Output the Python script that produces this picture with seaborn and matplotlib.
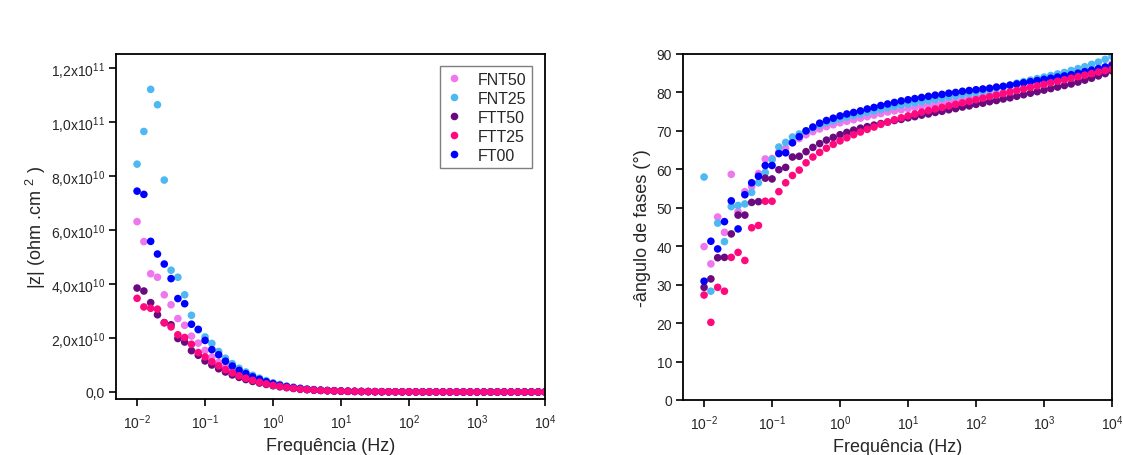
import numpy as np
import pandas as pd
import matplotlib
matplotlib.use("Agg")
import matplotlib.pyplot as plt
import seaborn as sns
from matplotlib.ticker import FixedLocator, FuncFormatter, NullLocator

# Samples and their colours (legend order)
samples = ["FNT50", "FNT25", "FTT50", "FTT25", "FT00"]
colors = ["#EE77EE", "#4DB8F2", "#6A0A7E", "#FF0A7E", "#0000FF"]
# Order in which the point clouds are stacked (last one on top)
draw_order = ["FNT50", "FNT25", "FTT50", "FT00", "FTT25"]

# Measurement grid: 10 points per decade, 10 mHz to 10 kHz
freq = np.logspace(-2, 4, 61)

# |Z| in units of 1e10 ohm.cm2
z_unit = 1e10
z_fnt50 = [6.31, 5.57, 4.38, 4.25, 3.60, 3.23, 2.72, 2.47, 2.07, 1.81,
           1.54, 1.30, 1.10, 0.92, 0.78, 0.66, 0.56, 0.47, 0.39, 0.32,
           0.27, 0.22, 0.18, 0.14, 0.11, 0.090, 0.073, 0.059, 0.048, 0.039,
           0.031, 0.025, 0.020, 0.016, 0.013, 0.011, 0.0088, 0.0071, 0.0058, 0.0047,
           0.0038, 0.0031, 0.0025, 0.0020, 0.0016, 0.0013, 0.0011, 0.0009, 0.0007, 0.0006,
           0.00049, 0.0004, 0.00032, 0.00026, 0.00021, 0.00017, 0.00014, 0.00011, 0.00009, 0.00007,
           0.00006]
z_fnt25 = [8.44, 9.65, 11.21, 10.64, 7.85, 4.51, 4.25, 3.60, 2.84, 2.30,
           2.04, 1.80, 1.50, 1.25, 1.05, 0.88, 0.74, 0.62, 0.51, 0.42,
           0.34, 0.28, 0.22, 0.18, 0.14, 0.11, 0.090, 0.073, 0.059, 0.047,
           0.038, 0.031, 0.025, 0.020, 0.016, 0.013, 0.011, 0.0087, 0.0070, 0.0057,
           0.0046, 0.0037, 0.0030, 0.0025, 0.0020, 0.0016, 0.0013, 0.0011, 0.0009, 0.0007,
           0.0006, 0.00048, 0.00039, 0.00032, 0.00026, 0.00021, 0.00017, 0.00014, 0.00011, 0.00009,
           0.00007]
z_ftt50 = [3.85, 3.74, 3.31, 2.86, 2.57, 2.49, 1.98, 1.85, 1.53, 1.36,
           1.15, 1.00, 0.86, 0.74, 0.63, 0.54, 0.46, 0.39, 0.33, 0.28,
           0.23, 0.19, 0.16, 0.13, 0.10, 0.085, 0.069, 0.056, 0.046, 0.037,
           0.030, 0.024, 0.020, 0.016, 0.013, 0.010, 0.0085, 0.0069, 0.0056, 0.0045,
           0.0037, 0.0030, 0.0024, 0.0020, 0.0016, 0.0013, 0.0010, 0.00085, 0.0007, 0.00056,
           0.00046, 0.00037, 0.0003, 0.00024, 0.0002, 0.00016, 0.00013, 0.0001, 0.00008, 0.00007,
           0.00005]
z_ftt25 = [3.47, 3.15, 3.10, 3.07, 2.56, 2.41, 2.12, 2.02, 1.77, 1.46,
           1.30, 1.12, 0.97, 0.83, 0.71, 0.60, 0.51, 0.43, 0.36, 0.30,
           0.25, 0.21, 0.17, 0.14, 0.11, 0.090, 0.073, 0.059, 0.048, 0.039,
           0.032, 0.026, 0.021, 0.017, 0.014, 0.011, 0.0090, 0.0073, 0.0059, 0.0048,
           0.0039, 0.0032, 0.0026, 0.0021, 0.0017, 0.0014, 0.0011, 0.0009, 0.00073, 0.00059,
           0.00048, 0.00039, 0.00032, 0.00026, 0.00021, 0.00017, 0.00014, 0.00011, 0.00009, 0.00007,
           0.00006]
z_ft00 = [7.44, 7.32, 5.58, 5.11, 4.74, 4.20, 3.46, 3.27, 2.51, 2.32,
          1.91, 1.57, 1.38, 1.14, 0.96, 0.80, 0.68, 0.56, 0.47, 0.38,
          0.31, 0.25, 0.20, 0.16, 0.13, 0.10, 0.082, 0.066, 0.053, 0.043,
          0.035, 0.028, 0.023, 0.018, 0.015, 0.012, 0.0097, 0.0079, 0.0064, 0.0052,
          0.0042, 0.0034, 0.0028, 0.0023, 0.0018, 0.0015, 0.0012, 0.0010, 0.0008, 0.00066,
          0.00054, 0.00044, 0.00036, 0.00029, 0.00024, 0.00019, 0.00016, 0.00013, 0.00011, 0.00009,
          0.00007]

# -phase angle in degrees
ph_fnt50 = [39.9, 35.4, 47.6, 43.6, 58.7, 49.0, 54.2, 55.5, 58.9, 62.7,
            62.8, 64.5, 65.5, 67.0, 68.0, 69.0, 69.8, 70.5, 71.1, 71.6,
            72.1, 72.5, 72.9, 73.3, 73.7, 74.1, 74.5, 74.9, 75.2, 75.5,
            75.8, 76.1, 76.4, 76.7, 77.0, 77.3, 77.6, 77.9, 78.2, 78.5,
            78.8, 79.1, 79.4, 79.7, 80.0, 80.3, 80.7, 81.1, 81.5, 81.9,
            82.3, 82.7, 83.1, 83.5, 83.9, 84.4, 84.9, 85.4, 85.9, 86.6,
            87.4]
ph_fnt25 = [58.0, 28.3, 46.0, 41.2, 50.3, 50.6, 51.0, 54.0, 56.5, 59.2,
            62.5, 65.8, 67.0, 68.4, 69.2, 70.0, 70.8, 71.5, 72.1, 72.6,
            73.1, 73.6, 74.0, 74.4, 74.8, 75.2, 75.6, 76.0, 76.4, 76.7,
            77.0, 77.3, 77.6, 77.9, 78.2, 78.5, 78.8, 79.1, 79.4, 79.7,
            80.0, 80.3, 80.7, 81.1, 81.5, 81.9, 82.4, 82.8, 83.2, 83.6,
            84.0, 84.4, 84.8, 85.2, 85.7, 86.2, 86.7, 87.3, 87.9, 88.6,
            89.4]
ph_ftt50 = [29.3, 31.5, 37.0, 37.1, 43.2, 48.1, 48.1, 51.4, 51.6, 57.7,
            57.5, 59.9, 60.5, 63.2, 63.4, 64.6, 65.7, 66.7, 67.6, 68.3,
            69.0, 69.6, 70.2, 70.7, 71.1, 71.5, 71.9, 72.3, 72.7, 73.0,
            73.4, 73.7, 74.1, 74.4, 74.8, 75.1, 75.5, 75.8, 76.2, 76.5,
            76.9, 77.2, 77.6, 77.9, 78.3, 78.6, 79.0, 79.4, 79.8, 80.2,
            80.6, 81.0, 81.4, 81.8, 82.2, 82.7, 83.2, 83.7, 84.3, 84.9,
            85.6]
ph_ftt25 = [27.3, 20.2, 29.3, 28.3, 37.1, 38.4, 36.3, 44.8, 45.4, 51.7,
            51.7, 54.2, 56.5, 58.4, 59.8, 61.7, 63.2, 64.4, 65.5, 66.5,
            67.4, 68.2, 69.0, 69.7, 70.4, 71.0, 71.7, 72.3, 72.9, 73.4,
            73.9, 74.4, 74.9, 75.3, 75.7, 76.1, 76.5, 76.9, 77.3, 77.7,
            78.1, 78.5, 78.9, 79.3, 79.7, 80.1, 80.5, 80.9, 81.3, 81.7,
            82.1, 82.5, 82.9, 83.3, 83.7, 84.1, 84.5, 84.9, 85.3, 85.7,
            86.1]
ph_ft00 = [30.9, 41.3, 39.3, 46.4, 51.8, 44.5, 53.4, 56.5, 58.2, 61.0,
           61.0, 64.1, 64.3, 66.9, 68.5, 70.0, 71.0, 72.0, 72.7, 73.3,
           73.9, 74.4, 74.8, 75.2, 75.7, 76.1, 76.6, 77.0, 77.4, 77.8,
           78.1, 78.4, 78.7, 79.0, 79.3, 79.5, 79.8, 80.0, 80.3, 80.5,
           80.7, 80.9, 81.1, 81.4, 81.6, 81.9, 82.2, 82.5, 82.8, 83.1,
           83.4, 83.7, 84.0, 84.3, 84.6, 85.0, 85.4, 85.8, 86.2, 86.6,
           87.0]

z_values = dict(zip(samples, [z_fnt50, z_fnt25, z_ftt50, z_ftt25, z_ft00]))
ph_values = dict(zip(samples, [ph_fnt50, ph_fnt25, ph_ftt50, ph_ftt25, ph_ft00]))

frames = []
for name in draw_order:
    frames.append(pd.DataFrame({
        "freq": freq,
        "z": np.asarray(z_values[name]) * z_unit,
        "phase": ph_values[name],
        "sample": name,
    }))
df = pd.concat(frames, ignore_index=True)

sns.set_style("ticks")
plt.rcParams["font.family"] = ["Liberation Sans", "DejaVu Sans"]
plt.rcParams["mathtext.fontset"] = "custom"
plt.rcParams["mathtext.rm"] = "Liberation Sans"
plt.rcParams["mathtext.it"] = "Liberation Sans:italic"
plt.rcParams["mathtext.bf"] = "Liberation Sans:bold"

palette = dict(zip(samples, colors))

fig = plt.figure(figsize=(11.23, 4.56), dpi=100)
W, H = 1123, 456
ax1 = fig.add_axes([116 / W, (H - 400) / H, 429 / W, 345 / H])
ax2 = fig.add_axes([683 / W, (H - 401) / H, 429 / W, 346 / H])

sns.scatterplot(data=df, x="freq", y="z", hue="sample", hue_order=samples,
                palette=palette, s=30, linewidth=0, ax=ax1, legend=True)
sns.scatterplot(data=df, x="freq", y="phase", hue="sample", hue_order=samples,
                palette=palette, s=30, linewidth=0, ax=ax2, legend=False)


def sci_comma(v, pos):
    if v == 0:
        return "0,0"
    exp = int(np.floor(np.log10(abs(v)) + 1e-9))
    mant = v / 10 ** exp
    return f"{mant:.1f}".replace(".", ",") + r"x10$^{%d}$" % exp


for ax in (ax1, ax2):
    ax.set_xscale("log")
    ax.set_xlim(10 ** -2.31, 1e4)
    ax.xaxis.set_major_locator(FixedLocator([10.0 ** k for k in range(-2, 5)]))
    ax.xaxis.set_minor_locator(NullLocator())
    ax.set_xlabel("Frequência (Hz)", fontsize=13, labelpad=4)
    ax.tick_params(axis="both", which="major", direction="out", length=5,
                   width=1.2, color="black", labelsize=10, pad=3,
                   top=False, right=False)
    ax.tick_params(axis="x", labelsize=10, pad=5)
    for sp in ax.spines.values():
        sp.set_visible(True)
        sp.set_linewidth(1.3)
        sp.set_color("black")
    ax.grid(False)

ax1.set_ylim(-2.6e9, 1.252e11)
ax1.yaxis.set_major_locator(FixedLocator(np.arange(0, 1.21e11, 2e10)))
ax1.yaxis.set_major_formatter(FuncFormatter(sci_comma))
ax1.set_ylabel("|z| (ohm .cm $^{2}$ )", fontsize=13, labelpad=2)

ax2.set_ylim(0, 90)
ax2.yaxis.set_major_locator(FixedLocator(np.arange(0, 91, 10)))
ax2.set_ylabel("-ângulo de fases (°)", fontsize=13, labelpad=4)

sns.move_legend(ax1, "upper right", bbox_to_anchor=(0.970, 0.965),
                borderaxespad=0, title=None, frameon=True, fancybox=False,
                framealpha=1, edgecolor="#7f7f7f", fontsize=11.5,
                handlelength=1.0, handletextpad=1.0, labelspacing=0.25,
                borderpad=0.35, markerscale=1.0)
ax1.get_legend().get_frame().set_linewidth(1.0)

fig.savefig("out.png", dpi=100)
